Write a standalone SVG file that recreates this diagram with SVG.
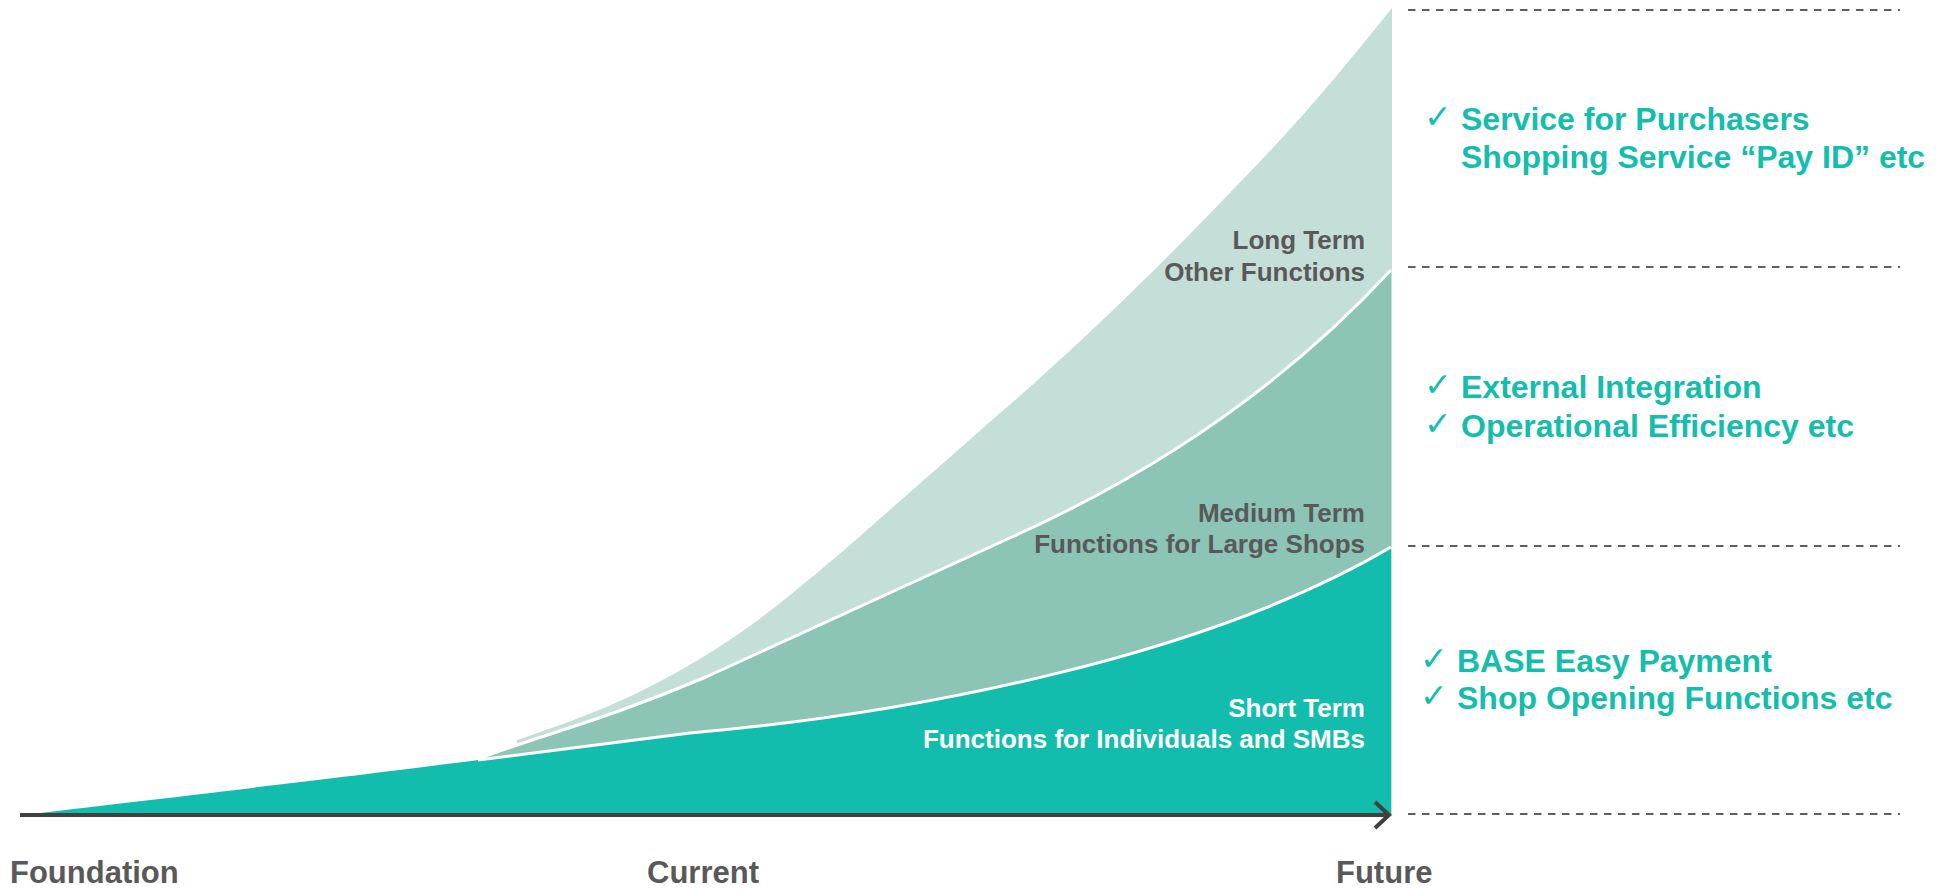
<svg xmlns="http://www.w3.org/2000/svg" width="1949" height="889" viewBox="0 0 1949 889">
  <defs>
    <style>
      .term{font-family:"Liberation Sans",Arial,sans-serif;font-weight:bold;font-size:26px;fill:#595959;text-anchor:end}
      .term.on-teal{fill:#ffffff}
      .stage{font-family:"Liberation Sans",Arial,sans-serif;font-weight:bold;font-size:31px;fill:#595959}
      .item{font-family:"Liberation Sans",Arial,sans-serif;font-weight:bold;font-size:32px;fill:#14BDAC}
      .tick{font-family:"DejaVu Sans",sans-serif;font-size:33px;fill:#14BDAC}
      .guide{fill:none;stroke:#5f5f5f;stroke-width:2;stroke-dasharray:7.5 6.5}
      .sep{fill:none;stroke:#ffffff;stroke-width:3}
      .long{fill:#C4DFD8}
      .medium{fill:#8CC4B5}
      .short{fill:#13BDAD}
      .axis{fill:none;stroke:#404040;stroke-width:4}
    </style>
    <marker id="chevron" markerUnits="userSpaceOnUse" viewBox="0 0 20 32" markerWidth="20" markerHeight="32" refX="16" refY="16" orient="auto">
      <path d="M2,3 L16,16 L2,29" fill="none" stroke="#404040" stroke-width="4"/>
    </marker>
  </defs>

  <!-- stacked growth areas -->
  <g id="area-long">
    <path class="long" d="M517,740 C570,722 620,705 686,667 C750,630 790,596 850,545 L1000,413 C1100,327 1180,245 1250,172 C1310,110 1350,60 1392,8 L1392,815 L517,815 Z"/>
  </g>
  <g id="area-medium">
    <path class="medium" d="M478,759 C540,735 600,722 706,677 L1012,537 C1150,475 1280,390 1391,270 L1391,815 L478,815 Z"/>
  </g>
  <g id="area-short">
    <path class="short" d="M22,815 C150,800 380,773 478,760 L690,733 C900,715 1200,660 1391,547 L1391,815 Z"/>
  </g>

  <!-- white borders between the bands, axis and guide lines -->
  <g id="connectors">
    <path class="sep" d="M478,760 L690,733 C900,715 1200,660 1391,547"/>
    <path class="sep" d="M478,759 C540,735 600,722 706,677 L1012,537 C1150,475 1280,390 1391,270"/>
    <path class="axis" d="M20,815 L1389,815" marker-end="url(#chevron)"/>
    <path class="guide" d="M1408,10 H1900"/>
    <path class="guide" d="M1408,267 H1900"/>
    <path class="guide" d="M1408,546 H1900"/>
    <path class="guide" d="M1408,814 H1900"/>
  </g>

  <!-- band labels -->
  <g id="label-long">
    <text class="term" x="1365" y="249">Long Term</text>
    <text class="term" x="1365" y="281">Other Functions</text>
  </g>
  <g id="label-medium">
    <text class="term" x="1365" y="522">Medium Term</text>
    <text class="term" x="1365" y="553">Functions for Large Shops</text>
  </g>
  <g id="label-short">
    <text class="term on-teal" x="1365" y="717">Short Term</text>
    <text class="term on-teal" x="1365" y="748">Functions for Individuals and SMBs</text>
  </g>

  <!-- stage labels under the axis -->
  <g id="stage-foundation"><text class="stage" x="10" y="883">Foundation</text></g>
  <g id="stage-current"><text class="stage" x="647" y="883">Current</text></g>
  <g id="stage-future"><text class="stage" x="1336" y="883">Future</text></g>

  <!-- feature lists -->
  <g id="items-long">
    <text class="tick" x="1424" y="128">✓</text>
    <text class="item" x="1461" y="130">Service for Purchasers</text>
    <text class="item" x="1461" y="168">Shopping Service “Pay ID” etc</text>
  </g>
  <g id="items-medium">
    <text class="tick" x="1424" y="396">✓</text>
    <text class="item" x="1461" y="398">External Integration</text>
    <text class="tick" x="1424" y="435">✓</text>
    <text class="item" x="1461" y="437">Operational Efficiency etc</text>
  </g>
  <g id="items-short">
    <text class="tick" x="1420" y="670">✓</text>
    <text class="item" x="1457" y="672">BASE Easy Payment</text>
    <text class="tick" x="1420" y="707">✓</text>
    <text class="item" x="1457" y="709">Shop Opening Functions etc</text>
  </g>
</svg>
